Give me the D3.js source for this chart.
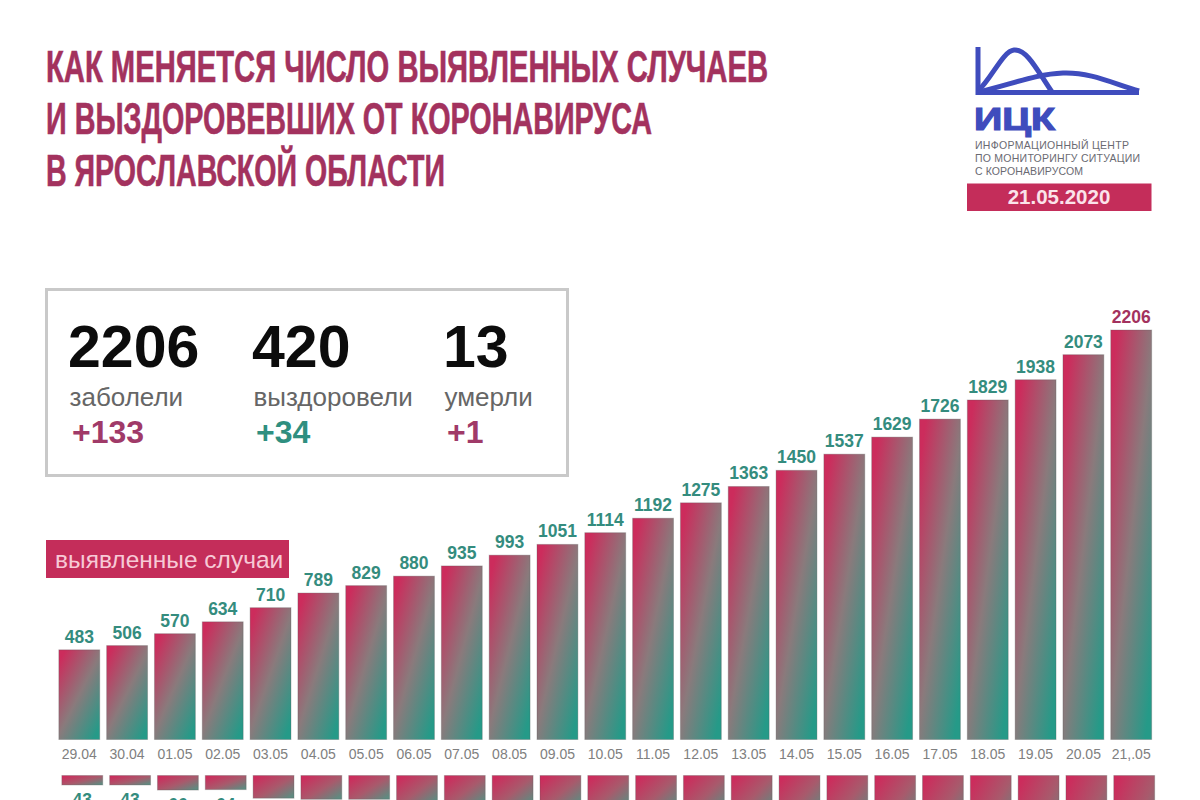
<!DOCTYPE html>
<html>
<head>
<meta charset="utf-8">
<script src="https://cdn.jsdelivr.net/npm/d3@7"></script>
<style>
html, body { margin: 0; padding: 0; background: #fff; overflow: hidden; }
svg { display: block; }
text { font-family: "Liberation Sans", Arial, sans-serif; }
</style>
</head>
<body>
<svg id="chart" width="1200" height="800"></svg>
<script>
var dates = ['29.04','30.04','01.05','02.05','03.05','04.05','05.05','06.05','07.05','08.05','09.05','10.05','11.05','12.05','13.05','14.05','15.05','16.05','17.05','18.05','19.05','20.05','21,.05'];
var cases = [483,506,570,634,710,789,829,880,935,993,1051,1114,1192,1275,1363,1450,1537,1629,1726,1829,1938,2073,2206];
// the lower chart is cut off by the picture, only the first few are readable
var recovered = [43,43,66,64,103,108,108,125,130,135,140,150,160,170,180,200,220,250,280,310,350,386,420];
var titleLines = ['КАК МЕНЯЕТСЯ ЧИСЛО ВЫЯВЛЕННЫХ СЛУЧАЕВ','И ВЫЗДОРОВЕВШИХ ОТ КОРОНАВИРУСА','В ЯРОСЛАВСКОЙ ОБЛАСТИ'];
var logoLines = ['ИНФОРМАЦИОННЫЙ ЦЕНТР','ПО МОНИТОРИНГУ СИТУАЦИИ','С КОРОНАВИРУСОМ'];
var statValues = ['2206','420','13'];
var statNames = ['заболели','выздоровели','умерли'];
var statDeltas = ['+133','+34','+1'];

var titleColor = '#a3325e', blue = '#3f4cbd';

var svg = d3.select('#chart');
var defs = svg.append('defs');

function addGradient(id, stops, x1, y1, x2, y2) {
	var g = defs.append('linearGradient').attr('id', id)
		.attr('x1', x1).attr('y1', y1).attr('x2', x2).attr('y2', y2);
	stops.forEach(function (s) {
		g.append('stop').attr('offset', s[0]).attr('stop-color', s[1]);
	});
}
addGradient('barUp', [[0, '#cc2c5c'], [0.5, '#8a7a7c'], [1, '#259a88']], 0.1, 0.05, 0.9, 0.95);
addGradient('barDown', [[0, '#cc2c5c'], [0.55, '#a85a6c'], [1, '#5f8a80']], 0.05, 0.1, 0.95, 0.9);

// title
svg.append('g').selectAll('text').data(titleLines).enter().append('text')
	.attr('x', 46)
	.attr('y', function (d, i) { return 82 + i * 52; })
	.attr('fill', titleColor)
	.attr('stroke', titleColor)
	.attr('stroke-width', 0.6)
	.attr('font-family', '"Liberation Sans Narrow", "Liberation Sans", sans-serif')
	.attr('font-weight', 700)
	.attr('font-size', 44)
	.attr('textLength', function (d, i) { return [722, 606, 399][i]; })
	.attr('lengthAdjust', 'spacingAndGlyphs')
	.text(function (d) { return d; });

// logo
var logo = svg.append('g').attr('fill', 'none').attr('stroke', blue).attr('stroke-width', 5);
logo.append('path').attr('d', 'M978 47V92.5H1139');
logo.append('path').attr('d', 'M978 91C992 78 1003 51 1014 50C1027 49 1037 70 1052 92');
logo.append('path').attr('d', 'M978 92C1010 85 1035 74 1063 73C1090 72 1112 83 1139 91');
svg.append('text').attr('x', 974).attr('y', 130).attr('fill', blue)
	.attr('stroke', blue).attr('stroke-width', 1.2)
	.attr('font-weight', 700).attr('font-size', 32)
	.attr('textLength', 81).attr('lengthAdjust', 'spacingAndGlyphs').text('ИЦК');
svg.append('g').selectAll('text').data(logoLines).enter().append('text')
	.attr('x', 975)
	.attr('y', function (d, i) { return [149, 162, 174.5][i]; })
	.attr('fill', '#6a6a72')
	.attr('font-size', 10.5)
	.attr('textLength', function (d, i) { return [154, 165, 108][i]; })
	.text(function (d) { return d; });
svg.append('rect').attr('x', 967).attr('y', 183.5).attr('width', 184.5).attr('height', 27.5).attr('fill', '#c42d5a');
svg.append('text').attr('x', 1059).attr('y', 204).attr('text-anchor', 'middle')
	.attr('fill', '#fbe3ea').attr('font-weight', 700).attr('font-size', 20.5).text('21.05.2020');

// stats box
svg.append('rect').attr('x', 46.5).attr('y', 289.5).attr('width', 521).attr('height', 186)
	.attr('fill', '#fff').attr('stroke', '#c9c9c9').attr('stroke-width', 3);
var statX = d3.scaleOrdinal().domain(statNames).range([68, 252, 443]);
var deltaColor = d3.scaleOrdinal().domain(statNames).range(['#a03a68', '#2f8f80', '#a03a68']);
var stat = svg.append('g').selectAll('g').data(statNames).enter().append('g')
	.attr('transform', function (d) { return 'translate(' + statX(d) + ',0)'; });
stat.append('text').attr('y', 367).attr('fill', '#0c0c0c').attr('font-weight', 700).attr('font-size', 59)
	.text(function (d, i) { return statValues[i]; });
stat.append('text').attr('x', 1.5).attr('y', 406).attr('fill', '#666').attr('font-size', 26)
	.text(function (d) { return d; });
stat.append('text').attr('x', 4).attr('y', 443).attr('fill', function (d) { return deltaColor(d); })
	.attr('font-weight', 700).attr('font-size', 32)
	.text(function (d, i) { return statDeltas[i]; });

// scales
var x = d3.scaleBand().domain(dates).range([55.5, 1155]).paddingInner(0.145).paddingOuter(0.07);
var yUp = d3.scaleLinear().domain([0, 2206]).range([739.5, 330]);
var yDown = d3.scaleLinear().domain([0, 420]).range([775.5, 868]);

// upper bars
svg.append('g').selectAll('rect').data(cases).enter().append('rect')
	.attr('x', function (d, i) { return x(dates[i]); })
	.attr('y', function (d) { return yUp(d); })
	.attr('width', x.bandwidth())
	.attr('height', function (d) { return yUp(0) - yUp(d); })
	.attr('fill', 'url(#barUp)')
	.attr('stroke', '#555')
	.attr('stroke-opacity', 0.3)
	.attr('stroke-width', 1);

svg.append('g').selectAll('text').data(cases).enter().append('text')
	.attr('x', function (d, i) { return x(dates[i]) + x.bandwidth() / 2; })
	.attr('y', function (d) { return yUp(d) - 7; })
	.attr('text-anchor', 'middle')
	.attr('font-weight', 700)
	.attr('font-size', 17.5)
	.attr('fill', function (d, i) { return i === cases.length - 1 ? '#a3325e' : '#348c7e'; })
	.text(function (d) { return d; });

// date axis
var axis = svg.append('g').attr('transform', 'translate(0,749)')
	.call(d3.axisBottom(x).tickSize(0).tickPadding(0));
axis.select('.domain').remove();
axis.selectAll('text')
	.attr('font-family', '"Liberation Sans", Arial, sans-serif')
	.attr('font-size', 14)
	.attr('fill', '#808080');

// lower bars, cut by the picture edge
svg.append('g').selectAll('rect').data(recovered).enter().append('rect')
	.attr('x', function (d, i) { return x(dates[i]) + 3; })
	.attr('y', yDown(0))
	.attr('width', x.bandwidth())
	.attr('height', function (d) { return yDown(d) - yDown(0); })
	.attr('fill', 'url(#barDown)')
	.attr('stroke', '#555')
	.attr('stroke-opacity', 0.3)
	.attr('stroke-width', 1);

svg.append('g').selectAll('text').data(recovered).enter().append('text')
	.attr('x', function (d, i) { return x(dates[i]) + 3 + x.bandwidth() / 2; })
	.attr('y', function (d) { return yDown(d) + 21; })
	.attr('text-anchor', 'middle')
	.attr('font-weight', 700)
	.attr('font-size', 17.5)
	.attr('fill', '#348c7e')
	.text(function (d) { return d; });

// series tag
svg.append('rect').attr('x', 46).attr('y', 540).attr('width', 243).attr('height', 38).attr('fill', '#c42d5a');
svg.append('text').attr('x', 55).attr('y', 568).attr('fill', '#f7c9d6').attr('font-size', 24.5)
	.text('выявленные случаи');
</script>
</body>
</html>
